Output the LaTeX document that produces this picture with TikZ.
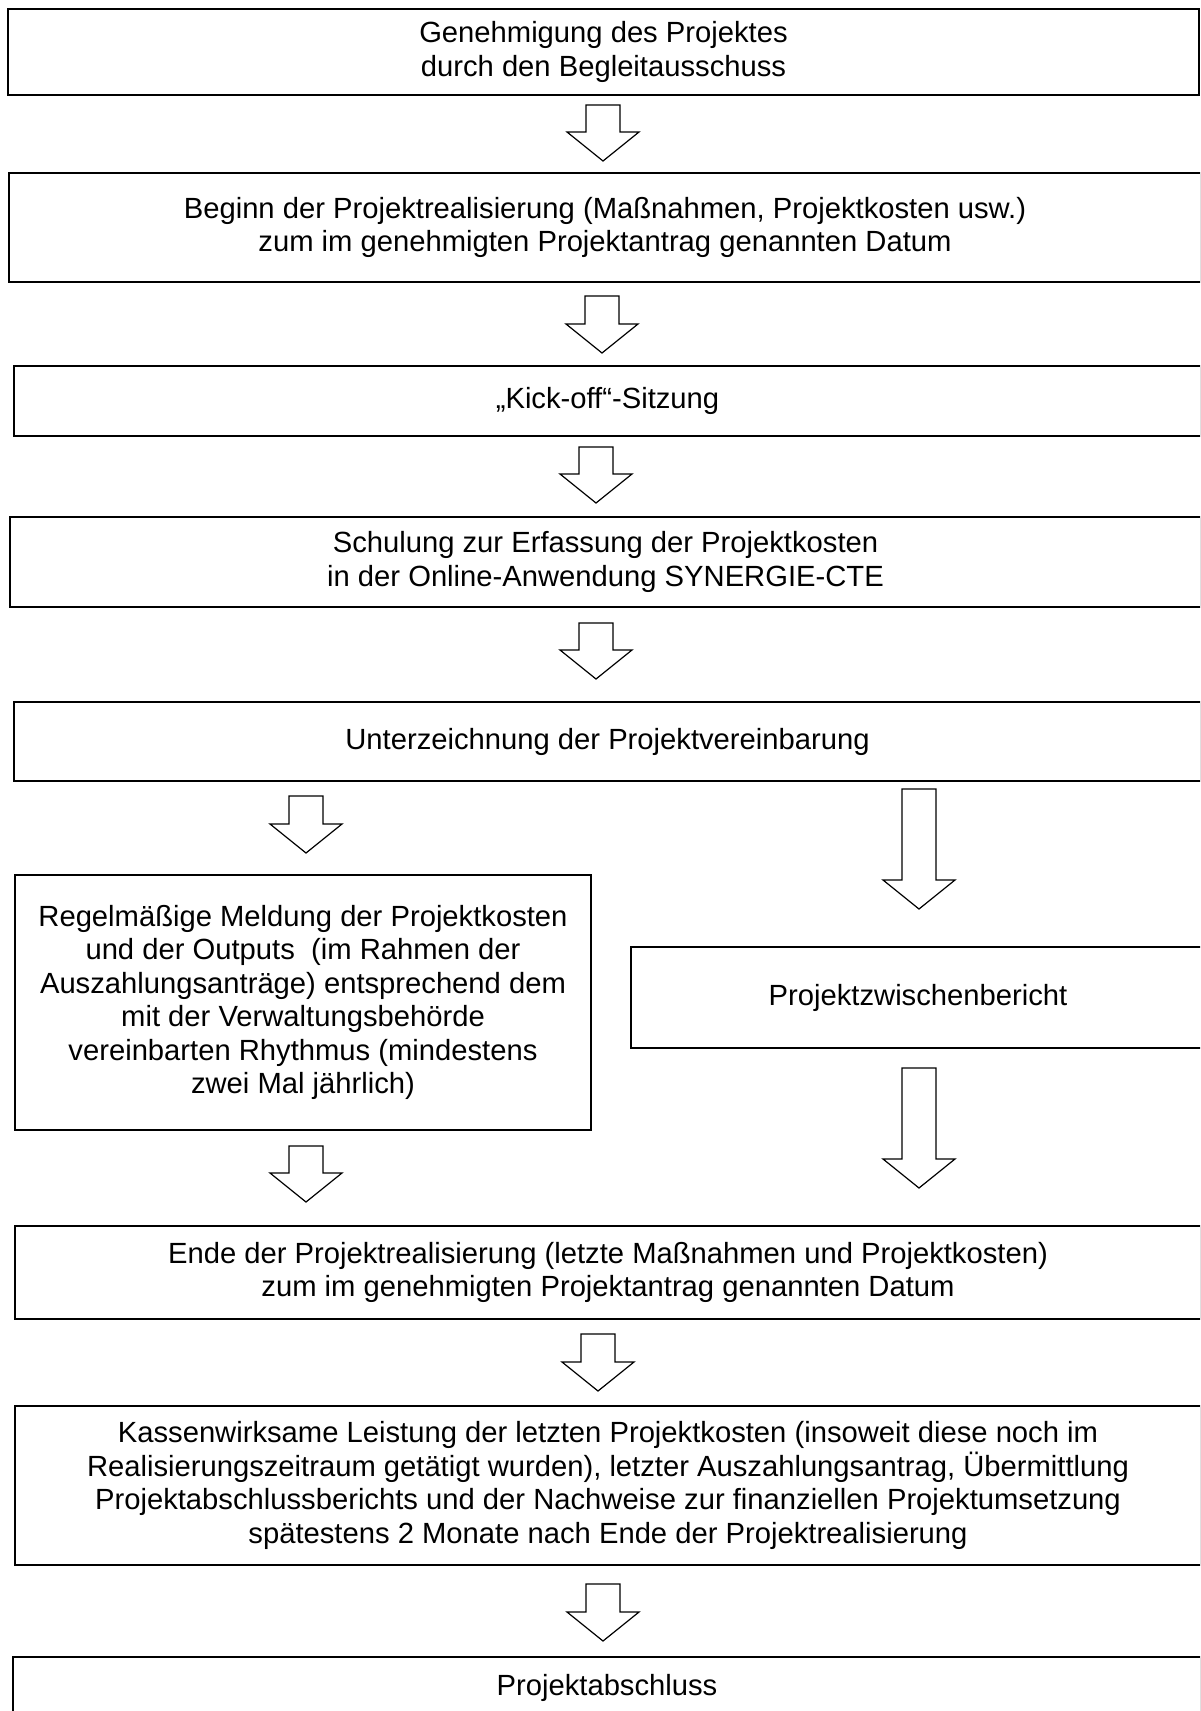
\documentclass[tikz,border=0pt]{standalone}
\usepackage{fontspec}
\setmainfont{Liberation Sans}
\tikzset{
  stage box/.style={draw=black, fill=white, line width=1.3pt, align=center, inner sep=0pt,
    font=\fontsize{14.6}{16.75}\selectfont},
  block arrow/.style={draw=black, fill=white, line width=0.6pt, line join=miter},
}
% hollow down arrow: centre x, top y, tip y (in px)
\newcommand{\downarrowblock}[3]{%
  \draw[block arrow] (#1-17,#2) -- (#1+17,#2) -- (#1+17,#3-29) -- (#1+36,#3-29)
    -- (#1,#3) -- (#1-36,#3-29) -- (#1-17,#3-29) -- cycle;}

\begin{document}
\begin{tikzpicture}[x=0.5pt, y=-0.5pt]
  \useasboundingbox (0,0) rectangle (1200,1711);
  \clip (0,0) rectangle (1200,1711);

  % Main sequence of stages, full width.
  \node[stage box, minimum width=595.5pt, minimum height=43pt] (approval) at (603.5,52)
    {Genehmigung des Projektes\\durch den Begleitausschuss};
  \node[stage box, minimum width=596pt, minimum height=54.5pt] (start) at (605,227.5)
    {Beginn der Projektrealisierung (Maßnahmen, Projektkosten usw.)\\zum im genehmigten Projektantrag genannten Datum};
  \node[stage box, minimum width=593.5pt, minimum height=35pt] (kickoff) at (607.5,401)
    {„Kick-off“-Sitzung};
  \node[stage box, minimum width=595.5pt, minimum height=45pt] (training) at (605.5,562)
    {Schulung zur Erfassung der Projektkosten\\in der Online-Anwendung SYNERGIE-CTE};
  \node[stage box, minimum width=593.5pt, minimum height=39.5pt] (agreement) at (607.5,741.5)
    {Unterzeichnung der Projektvereinbarung};

  % Two parallel branches.
  \node[stage box, minimum width=288pt, minimum height=127.5pt] (reporting) at (303,1002.5)
    {Regelmäßige Meldung der Projektkosten\\und der Outputs \ (im Rahmen der\\Auszahlungsanträge) entsprechend dem\\mit der Verwaltungsbehörde\\vereinbarten Rhythmus (mindestens\\zwei Mal jährlich)};
  \node[stage box, minimum width=287pt, minimum height=50.5pt] (interim) at (918,997.5)
    {Projektzwischenbericht};

  % Closing stages.
  \node[stage box, minimum width=593pt, minimum height=46.5pt] (finish) at (608,1272.5)
    {Ende der Projektrealisierung (letzte Maßnahmen und Projektkosten)\\zum im genehmigten Projektantrag genannten Datum};
  \node[stage box, minimum width=593pt, minimum height=79.5pt] (payment) at (608,1485.5)
    {Kassenwirksame Leistung der letzten Projektkosten (insoweit diese noch im\\Realisierungszeitraum getätigt wurden), letzter Auszahlungsantrag, Übermittlung\\Projektabschlussberichts und der Nachweise zur finanziellen Projektumsetzung\\spätestens 2 Monate nach Ende der Projektrealisierung};
  \node[stage box, minimum width=594pt, minimum height=31pt] (closure) at (607,1688)
    {Projektabschluss};

  % Hollow block arrows between the stages.
  \downarrowblock{603}{105}{161}
  \downarrowblock{602}{296}{353}
  \downarrowblock{596}{447}{503}
  \downarrowblock{596}{623}{679}
  \downarrowblock{306}{796}{853}
  \downarrowblock{919}{789}{909}
  \downarrowblock{306}{1146}{1202}
  \downarrowblock{919}{1068}{1188}
  \downarrowblock{598}{1334}{1391}
  \downarrowblock{603}{1584}{1641}
\end{tikzpicture}
\end{document}
